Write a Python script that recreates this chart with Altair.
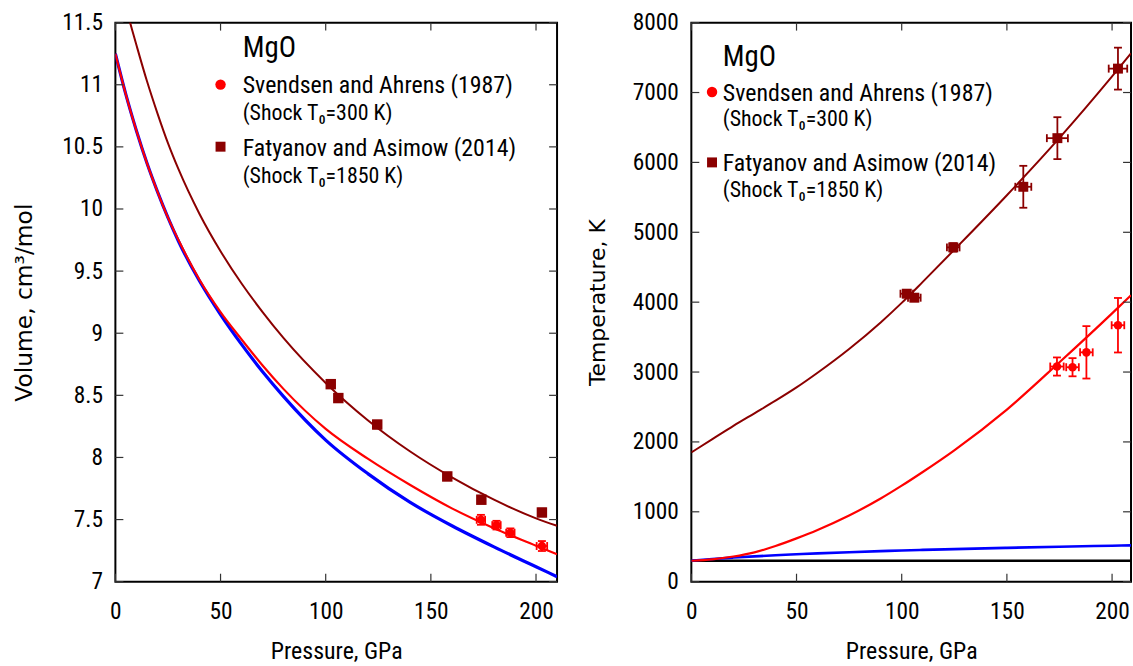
import altair as alt
import pandas as pd

# ---------------- data ----------------
# Left panel: Volume (cm3/mol) vs Pressure (GPa)
iso_P = [0, 5, 10, 15, 20, 25, 30, 40, 50, 60, 70, 80, 100, 120, 140, 160, 180, 200, 210]
iso_V = [11.25, 10.92, 10.63, 10.37, 10.14, 9.93, 9.74, 9.42, 9.15, 8.91, 8.69, 8.49,
         8.14, 7.87, 7.64, 7.45, 7.28, 7.12, 7.04]
hug300_P = [0, 5, 10, 15, 20, 25, 30, 40, 50, 60, 70, 80, 100, 120, 140, 160, 180, 200, 210]
hug300_V = [11.25, 10.92, 10.63, 10.37, 10.14, 9.93, 9.75, 9.43, 9.17, 8.95, 8.74, 8.55,
            8.23, 7.99, 7.78, 7.59, 7.43, 7.29, 7.22]
hug1850_P = [5, 7, 10, 15, 20, 25, 30, 40, 50, 60, 70, 80, 100, 120, 140, 160, 180, 200, 210]
hug1850_V = [11.62, 11.50, 11.32, 11.03, 10.77, 10.53, 10.32, 9.96, 9.66, 9.40, 9.17, 8.96,
             8.60, 8.30, 8.05, 7.84, 7.66, 7.51, 7.45]

# Right panel: Temperature (K) vs Pressure (GPa)
T_P = [0, 10, 20, 30, 40, 50, 60, 75, 90, 100, 110, 125, 150, 175, 200, 209]
hug300_T = [300, 320, 360, 420, 510, 620, 740, 947, 1190, 1374, 1570, 1880, 2463, 3140,
            3840, 4100]
hug1850_T = [1850, 2040, 2230, 2410, 2590, 2780, 2990, 3330, 3710, 3990, 4290, 4750, 5530,
             6350, 7230, 7560]
iso_T = [300, 325, 345, 362, 378, 392, 405, 422, 437, 446, 455, 466, 484, 500, 515, 520]
ref_T = [300, 300, 300, 300, 300, 300, 300, 300, 300, 300, 300, 300, 300, 300, 300, 300]

# Svendsen and Ahrens (1987)
SA_P = [173.8, 181.2, 187.8, 202.8]
SA_V = [7.498, 7.455, 7.394, 7.287]
SA_Verr = [0.04, 0.035, 0.035, 0.04]
SA_PerrV = [2.0, 2.0, 2.0, 2.5]
SA_T = [3079, 3069, 3282, 3670]
SA_Terr = [130, 130, 375, 390]
SA_Perr = [3.2, 3.0, 3.0, 3.0]

# Fatyanov and Asimow (2014)
FA_P = [102.4, 106.0, 124.5, 157.8, 174.0, 202.8]
FA_V = [8.59, 8.478, 8.265, 7.847, 7.66, 7.557]
FA_Verr = [0.03, 0.03, 0.03, 0.03, 0.03, 0.03]
FA_PerrV = [1.5, 1.5, 1.5, 1.5, 1.5, 1.5]
FA_T = [4121, 4064, 4784, 5651, 6347, 7342]
FA_Terr = [50, 50, 60, 300, 300, 300]
FA_Perr = [3.0, 3.0, 3.0, 3.8, 5.0, 4.4]

X_TICKS = [0, 50, 100, 150, 200]
V_TICKS = [7, 7.5, 8, 8.5, 9, 9.5, 10, 10.5, 11, 11.5]
T_TICKS = [0, 1000, 2000, 3000, 4000, 5000, 6000, 7000, 8000]

LEGEND = ["MgO", "Svendsen and Ahrens (1987)", "(Shock T\u2080=300 K)",
          "Fatyanov and Asimow (2014)", "(Shock T\u2080=1850 K)"]

# ---------------- styles ----------------
RED = "#ff0000"
DRED = "#8b0000"
BLUE = "#0000ff"
BLACK = "#000000"
FN = "Roboto Condensed, DejaVu Sans Condensed, sans-serif"
FR = "DejaVu Sans, Liberation Sans, sans-serif"
H = 562


def x_axis(w):
    return alt.Axis(values=X_TICKS, labelFont=FN, labelFontSize=23.5, labelColor="black",
                    labelPadding=18, ticks=False, domain=False, grid=False,
                    labelFlush=False, labelOverlap=False,
                    title="Pressure, GPa", titleFont=FN, titleFontSize=24,
                    titleFontWeight="normal", titleColor="black", titleX=w / 2,
                    titleY=77, titleBaseline="alphabetic", titleAlign="center")


def y_axis(vals, title, tx, fmt, tsize):
    return alt.Axis(values=vals, format=fmt, labelFont=FN, labelFontSize=23.5,
                    labelColor="black", labelPadding=13, ticks=False, domain=False,
                    grid=False, labelFlush=False, labelOverlap=False,
                    title=title, titleFont=FR, titleFontSize=tsize,
                    titleFontWeight="normal", titleColor="black", titleAngle=270,
                    titleX=tx, titleY=H / 2, titleBaseline="middle", titleAlign="center")


def panel(w, xdom, ydom, yvals, ytitle, ytx, yfmt, tsize, curves, pts, leg):
    xs = alt.Scale(domain=xdom, nice=False, zero=False)
    ys = alt.Scale(domain=ydom, nice=False, zero=False)
    XA = x_axis(w)
    YA = y_axis(yvals, ytitle, ytx, yfmt, tsize)

    def X(f):
        return alt.X(f, type="quantitative", scale=xs, axis=XA, title="Pressure, GPa")

    def Y(f):
        return alt.Y(f, type="quantitative", scale=ys, axis=YA, title=ytitle)

    layers = []
    for P, vals, col, sw in curves:
        df = pd.DataFrame({"P": P, "v": vals})
        layers.append(alt.Chart(df).mark_line(color=col, strokeWidth=sw, clip=True,
                                              interpolate="monotone")
                      .encode(x=X("P"), y=Y("v")))
    for P, vals, verr, perr, col, shape, size in pts:
        df = pd.DataFrame({"P": P, "v": vals,
                           "vlo": [a - b for a, b in zip(vals, verr)],
                           "vhi": [a + b for a, b in zip(vals, verr)],
                           "plo": [a - b for a, b in zip(P, perr)],
                           "phi": [a + b for a, b in zip(P, perr)]})
        base = alt.Chart(df)
        layers.append(base.mark_rule(color=col, strokeWidth=1.8)
                      .encode(x=X("P"), y=Y("vlo"), y2="vhi"))
        layers.append(base.mark_rule(color=col, strokeWidth=1.8)
                      .encode(x=X("plo"), x2="phi", y=Y("v")))
        for f in ("vlo", "vhi"):
            layers.append(base.mark_tick(color=col, orient="horizontal", size=8,
                                         thickness=1.8, opacity=1)
                          .encode(x=X("P"), y=Y(f)))
        for f in ("plo", "phi"):
            layers.append(base.mark_tick(color=col, orient="vertical", size=8,
                                         thickness=1.8, opacity=1)
                          .encode(x=X(f), y=Y("v")))
        if shape == "circle":
            mk = base.mark_circle(color=col, size=size, opacity=1)
        else:
            mk = base.mark_square(color=col, size=size, opacity=1)
        layers.append(mk.encode(x=X("P"), y=Y("v")))

    # inward tick marks on all four sides
    xt = alt.Chart(pd.DataFrame({"t": X_TICKS}))
    yt = alt.Chart(pd.DataFrame({"t": yvals}))
    layers.append(xt.mark_rule(color="#333333", strokeWidth=1.2)
                  .encode(x=X("t"), y=alt.value(H), y2=alt.value(H - 8)))
    layers.append(xt.mark_rule(color="#333333", strokeWidth=1.2)
                  .encode(x=X("t"), y=alt.value(0), y2=alt.value(8)))
    layers.append(yt.mark_rule(color="#333333", strokeWidth=1.2)
                  .encode(y=Y("t"), x=alt.value(0), x2=alt.value(8)))
    layers.append(yt.mark_rule(color="#333333", strokeWidth=1.2)
                  .encode(y=Y("t"), x=alt.value(w), x2=alt.value(w - 8)))

    # legend block
    tx, ys_, sx, cy, sqy = leg
    sizes = [29, 24, 22, 24, 22]
    for s, yy, fs in zip(LEGEND, ys_, sizes):
        layers.append(alt.Chart(pd.DataFrame({"s": [s]}))
                      .mark_text(align="left", baseline="alphabetic", font=FN,
                                 fontSize=fs, color="black")
                      .encode(x=alt.value(tx), y=alt.value(yy), text="s:N"))
    one = alt.Chart(pd.DataFrame({"k": [LEGEND[0]]}))
    layers.append(one.mark_circle(color=RED, size=110, opacity=1)
                  .encode(x=alt.value(sx), y=alt.value(cy)))
    layers.append(one.mark_square(color=DRED, size=100, opacity=1)
                  .encode(x=alt.value(sx), y=alt.value(sqy)))

    return alt.layer(*layers).properties(width=w, height=H)


left = panel(
    444, [0, 210], [7, 11.5], V_TICKS, "Volume, cm\u00b3/mol", -91, "~g", 23.5,
    [(iso_P, iso_V, BLUE, 3.2), (hug300_P, hug300_V, RED, 2.2),
     (hug1850_P, hug1850_V, DRED, 2.0)],
    [(FA_P, FA_V, FA_Verr, FA_PerrV, DRED, "square", 110),
     (SA_P, SA_V, SA_Verr, SA_PerrV, RED, "circle", 75)],
    (128, [35, 71, 98, 134, 161], 105.7, 62.3, 124.7))

right = panel(
    442, [0, 209], [0, 8000], T_TICKS, "Temperature, K", -94, "d", 22,
    [(T_P, ref_T, BLACK, 2.4), (T_P, iso_T, BLUE, 2.6), (T_P, hug300_T, RED, 2.2),
     (T_P, hug1850_T, DRED, 2.0)],
    [(FA_P, FA_T, FA_Terr, FA_Perr, DRED, "square", 100),
     (SA_P, SA_T, SA_Terr, SA_Perr, RED, "circle", 75)],
    (31.6, [44, 79, 104, 149, 175], 20.8, 69.7, 140.5))

chart = (alt.hconcat(left, right, spacing=27)
         .properties(padding={"left": 12, "top": 8, "right": 0, "bottom": 0},
                     background="white")
         .configure_view(stroke="black", strokeWidth=2))

chart.save("out.html", embed_options={"renderer": "svg", "actions": False})
